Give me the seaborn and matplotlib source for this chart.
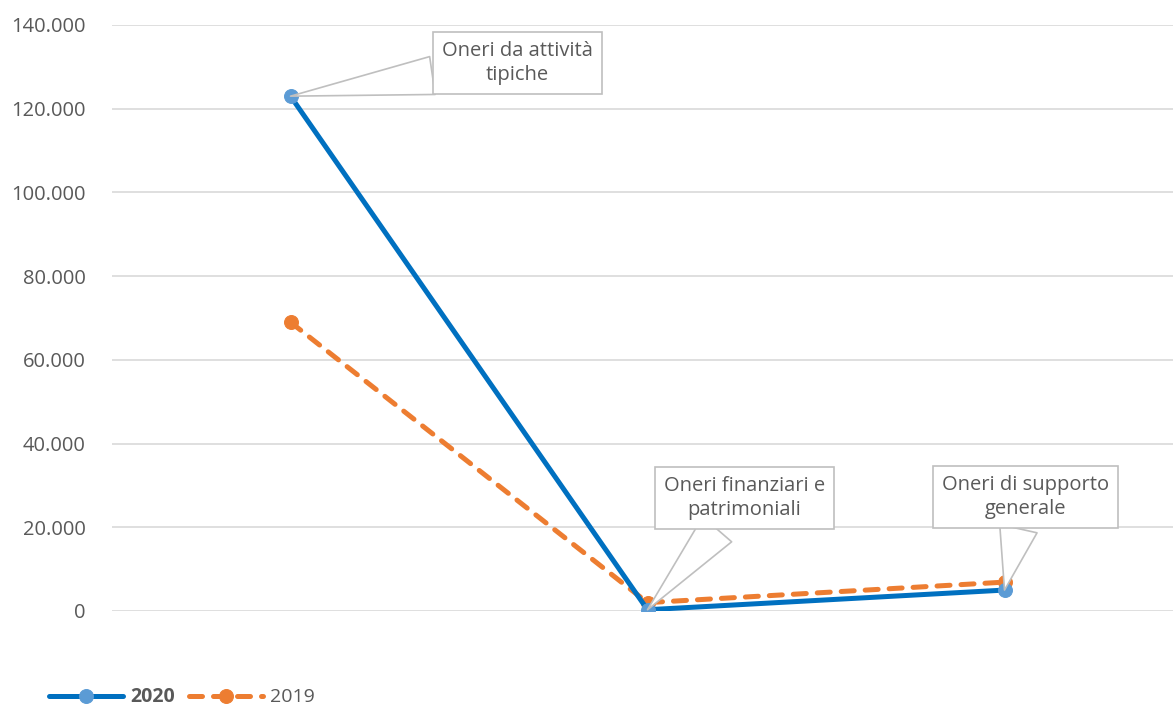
import numpy as np
import pandas as pd
import matplotlib.pyplot as plt
import seaborn as sns
from matplotlib.ticker import FuncFormatter

categories = ["Oneri da attività\ntipiche", "Oneri finanziari e\npatrimoniali", "Oneri di supporto\ngenerale"]
values_2020 = [123000, 300, 5000]
values_2019 = [69000, 2000, 6900]
y_ticks = [0, 20000, 40000, 60000, 80000, 100000, 120000, 140000]

sns.set_theme(style="white")
plt.rcParams['font.family'] = ['Open Sans', 'DejaVu Sans']

fig = plt.figure(figsize=(11.73, 7.11), dpi=100)
ax = fig.add_axes([112 / 1173, 1 - 611 / 711, 1071 / 1173, 586 / 711])

df = pd.DataFrame({"pos": range(len(categories)), "2020": values_2020, "2019": values_2019})

sns.lineplot(data=df, x="pos", y="2020", ax=ax, color="#0070C0", linewidth=3.6,
             marker="o", markersize=10, markerfacecolor="#5B9BD5",
             markeredgecolor="#5B9BD5", label="2020", zorder=3)
sns.lineplot(data=df, x="pos", y="2019", ax=ax, color="#ED7D31", linewidth=3.6,
             marker="o", markersize=10, markerfacecolor="#ED7D31",
             markeredgecolor="#ED7D31", label="2019", zorder=2,
             dashes=(2.6, 2.2), dash_capstyle="round")

ax.set_xlim(-0.5, 2.5)
ax.set_ylim(0, 140000)
ax.set_yticks(y_ticks)
ax.yaxis.set_major_formatter(FuncFormatter(lambda v, p: f"{int(v):,}".replace(",", ".")))
ax.set_xticks([])
ax.set_xlabel("")
ax.set_ylabel("")
ax.grid(axis="y", color="#d9d9d9", linewidth=1.2)
ax.set_axisbelow(True)
for s in ax.spines.values():
    s.set_visible(False)
ax.tick_params(axis="y", labelsize=14.5, labelcolor="#595959", length=0, pad=19)

# callout labels on the 2020 series
label_offsets = [(227, 33), (97, 112), (21, 93)]
for i, (lab, (dx, dy)) in enumerate(zip(categories, label_offsets)):
    ax.annotate(lab, xy=(i, values_2020[i]), xytext=(dx, dy), textcoords="offset pixels",
                ha="center", va="center", fontsize=14.5, color="#595959", linespacing=1.25,
                bbox=dict(boxstyle="square,pad=0.45", fc="white", ec="#bfbfbf", lw=1.2),
                arrowprops=dict(arrowstyle="wedge,tail_width=1.9,shrink_factor=0.5",
                                fc="white", ec="#bfbfbf", lw=1.2, shrinkA=0, shrinkB=0),
                zorder=5)

leg = ax.legend(loc="lower left", bbox_to_anchor=(35 / 1173, -0.014), bbox_transform=fig.transFigure,
                ncol=2, frameon=False, fontsize=14, handlelength=3.8, columnspacing=0.7,
                handletextpad=0.4, borderaxespad=0.3)
for t in leg.get_texts():
    t.set_color("#595959")
leg.get_texts()[0].set_fontweight("bold")

fig.savefig("out.png", dpi=100)
